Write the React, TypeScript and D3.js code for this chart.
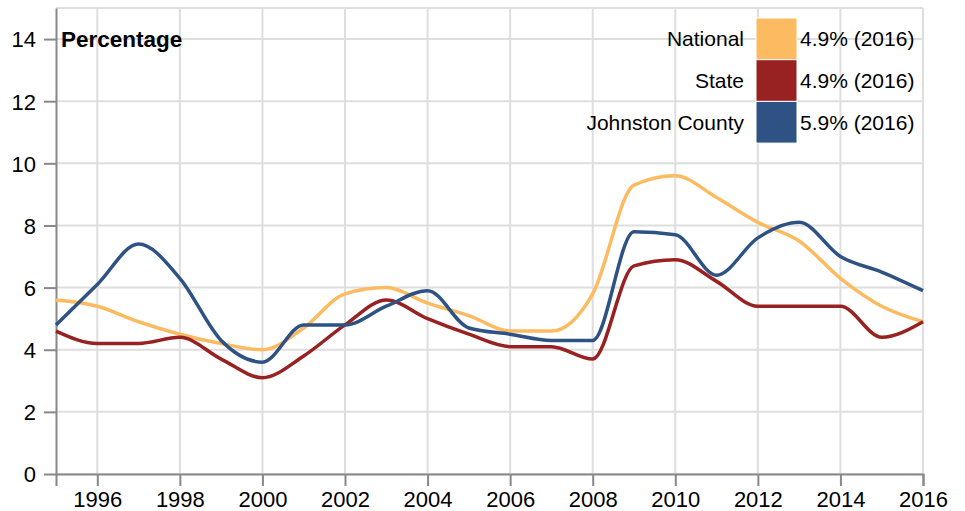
import React, { useEffect, useRef } from "react";
import * as d3 from "d3";

// datos
const years = [
  1995, 1996, 1997, 1998, 1999, 2000, 2001, 2002, 2003, 2004, 2005, 2006,
  2007, 2008, 2009, 2010, 2011, 2012, 2013, 2014, 2015, 2016,
];
const national = [
  5.6, 5.4, 4.9, 4.5, 4.2, 4.0, 4.7, 5.8, 6.0, 5.5, 5.1, 4.6, 4.6, 5.8, 9.3,
  9.6, 8.9, 8.1, 7.5, 6.3, 5.4, 4.9,
];
const state = [
  4.6, 4.2, 4.2, 4.4, 3.7, 3.1, 3.8, 4.8, 5.6, 5.0, 4.5, 4.1, 4.1, 3.7, 6.7,
  6.9, 6.2, 5.4, 5.4, 5.4, 4.4, 4.9,
];
const johnston = [
  4.8, 6.1, 7.4, 6.3, 4.3, 3.6, 4.8, 4.8, 5.4, 5.9, 4.7, 4.5, 4.3, 4.3, 7.8,
  7.7, 6.4, 7.6, 8.1, 7.0, 6.5, 5.9,
];
const seriesNames = ["National", "State", "Johnston County"];
const seriesColors = ["#fdbb61", "#982222", "#2e5283"];
const seriesValues = [national, state, johnston];
const xTicks = [1996, 1998, 2000, 2002, 2004, 2006, 2008, 2010, 2012, 2014, 2016];
const yTicks = [0, 2, 4, 6, 8, 10, 12, 14];

const W = 965;
const H = 511;

const App = () => {
  const svgRef = useRef<SVGSVGElement>(null);

  useEffect(() => {
    const svg = d3.select(svgRef.current);
    svg.selectAll("*").remove();

    const margin = { top: 8, right: 42, bottom: 37, left: 56 };
    const x = d3
      .scaleLinear()
      .domain([1995, 2016])
      .range([margin.left, W - margin.right]);
    const y = d3
      .scaleLinear()
      .domain([0, 15])
      .range([H - margin.bottom, margin.top]);

    const font = "'Liberation Sans', Arial, sans-serif";

    // rejilla
    const grid = svg.append("g").attr("stroke", "#dedede").attr("stroke-width", 2);
    grid
      .selectAll("line.h")
      .data([...yTicks, 15])
      .enter()
      .append("line")
      .attr("x1", x(1995))
      .attr("x2", x(2016))
      .attr("y1", (d) => y(d))
      .attr("y2", (d) => y(d));
    grid
      .selectAll("line.v")
      .data(xTicks)
      .enter()
      .append("line")
      .attr("x1", (d) => x(d))
      .attr("x2", (d) => x(d))
      .attr("y1", y(0))
      .attr("y2", y(15));

    // ejes
    const xAxis = svg
      .append("g")
      .attr("transform", `translate(0,${y(0)})`)
      .call(
        d3
          .axisBottom(x)
          .tickValues(xTicks)
          .tickFormat(d3.format("d"))
          .tickSize(12)
          .tickSizeOuter(12)
          .tickPadding(5)
      );
    const yAxis = svg
      .append("g")
      .attr("transform", `translate(${x(1995)},0)`)
      .call(
        d3
          .axisLeft(y)
          .tickValues(yTicks)
          .tickSize(12)
          .tickSizeOuter(0)
          .tickPadding(8)
      );
    [xAxis, yAxis].forEach((a) => {
      a.selectAll("path").attr("stroke", "#888").attr("stroke-width", 2);
      a.selectAll("line").attr("stroke", "#888").attr("stroke-width", 2);
      a.selectAll("text")
        .attr("fill", "#000")
        .style("font-family", font)
        .style("font-size", "22px");
    });
    yAxis.selectAll("text").attr("dy", "0.36em");

    // líneas
    const line = d3
      .line<number>()
      .x((_, i) => x(years[i]))
      .y((d) => y(d))
      .curve(d3.curveMonotoneX);

    svg
      .append("g")
      .selectAll("path")
      .data(seriesValues)
      .enter()
      .append("path")
      .attr("d", (d) => line(d))
      .attr("fill", "none")
      .attr("stroke", (_, i) => seriesColors[i])
      .attr("stroke-width", 3.5);

    // título
    svg
      .append("text")
      .attr("x", x(1995) + 5)
      .attr("y", 47)
      .style("font-family", font)
      .style("font-size", "22.5px")
      .style("font-weight", "bold")
      .text("Percentage");

    // leyenda
    const legend = svg.append("g").attr("transform", "translate(756,18)");
    const rowH = 41.7;
    const rows = legend
      .selectAll("g")
      .data(seriesNames)
      .enter()
      .append("g")
      .attr("transform", (_, i) => `translate(0,${i * rowH})`);
    rows
      .append("rect")
      .attr("width", 41)
      .attr("height", rowH)
      .attr("fill", (_, i) => seriesColors[i])
      .attr("stroke", "#fff")
      .attr("stroke-width", 1);
    rows
      .append("text")
      .attr("x", -12)
      .attr("y", rowH / 2)
      .attr("dy", "0.36em")
      .attr("text-anchor", "end")
      .style("font-family", font)
      .style("font-size", "21px")
      .text((d) => d);
    rows
      .append("text")
      .attr("x", 44)
      .attr("y", rowH / 2)
      .attr("dy", "0.36em")
      .style("font-family", font)
      .style("font-size", "21px")
      .text((_, i) => `${seriesValues[i][years.length - 1].toFixed(1)}% (2016)`);
  }, []);

  return (
    <div style={{ position: "absolute", left: 0, top: 0, width: W, height: H, background: "#fff" }}>
      <svg ref={svgRef} width={W} height={H}></svg>
    </div>
  );
};

export default App;
